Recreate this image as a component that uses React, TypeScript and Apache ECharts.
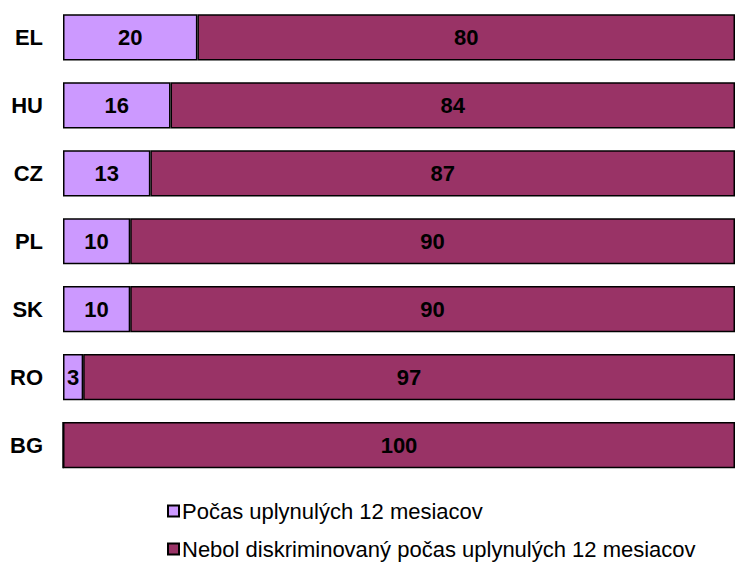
import React, { useEffect, useRef } from "react";
import * as echarts from "echarts";

const categories = ["EL", "HU", "CZ", "PL", "SK", "RO", "BG"];
const pastYear = [20, 16, 13, 10, 10, 3, 0];
const notDiscriminated = [80, 84, 87, 90, 90, 97, 100];
const seriesNames = [
  "Počas uplynulých 12 mesiacov",
  "Nebol diskriminovaný počas uplynulých 12 mesiacov",
];

export default function App() {
  const ref = useRef<HTMLDivElement>(null);
  useEffect(() => {
    document.body.style.margin = "0";
    const chart = echarts.init(ref.current!, null, { renderer: "svg" });
    const font = "'Liberation Sans', Arial, sans-serif";
    const label = {
      show: true,
      position: "inside",
      color: "#000",
      fontWeight: "bold",
      fontSize: 22,
      fontFamily: font,
      formatter: (p: any) => (p.value ? String(p.value) : ""),
    };
    const legendBase = {
      orient: "vertical",
      left: 167,
      padding: 0,
      itemWidth: 11,
      itemHeight: 11,
      icon: "rect",
      textStyle: {
        color: "#000",
        fontSize: 22,
        fontFamily: font,
        padding: [0, 0, 0, -2],
      },
    };
    chart.setOption({
      animation: false,
      grid: { left: 63, right: -3, top: 3.5, bottom: 83, containLabel: false },
      xAxis: {
        type: "value",
        min: 0,
        max: 100,
        show: false,
        splitLine: { show: false },
      },
      yAxis: {
        type: "category",
        data: categories,
        inverse: true,
        axisLine: { show: false },
        axisTick: { show: false },
        axisLabel: {
          margin: 20,
          color: "#000",
          fontWeight: "bold",
          fontSize: 22,
          fontFamily: font,
        },
      },
      legend: [
        { ...legendBase, top: 500, data: [seriesNames[0]] },
        { ...legendBase, top: 538, data: [seriesNames[1]] },
      ],
      series: [
        {
          name: seriesNames[0],
          type: "bar",
          stack: "total",
          data: pastYear,
          barCategoryGap: "32%",
          itemStyle: { color: "#CC99FF", borderColor: "#000", borderWidth: 1.5 },
          label,
        },
        {
          name: seriesNames[1],
          type: "bar",
          stack: "total",
          data: notDiscriminated,
          barCategoryGap: "32%",
          itemStyle: { color: "#993366", borderColor: "#000", borderWidth: 1.5 },
          label,
        },
      ],
    });
    return () => chart.dispose();
  }, []);
  return <div ref={ref} style={{ width: 735, height: 562 }} />;
}
